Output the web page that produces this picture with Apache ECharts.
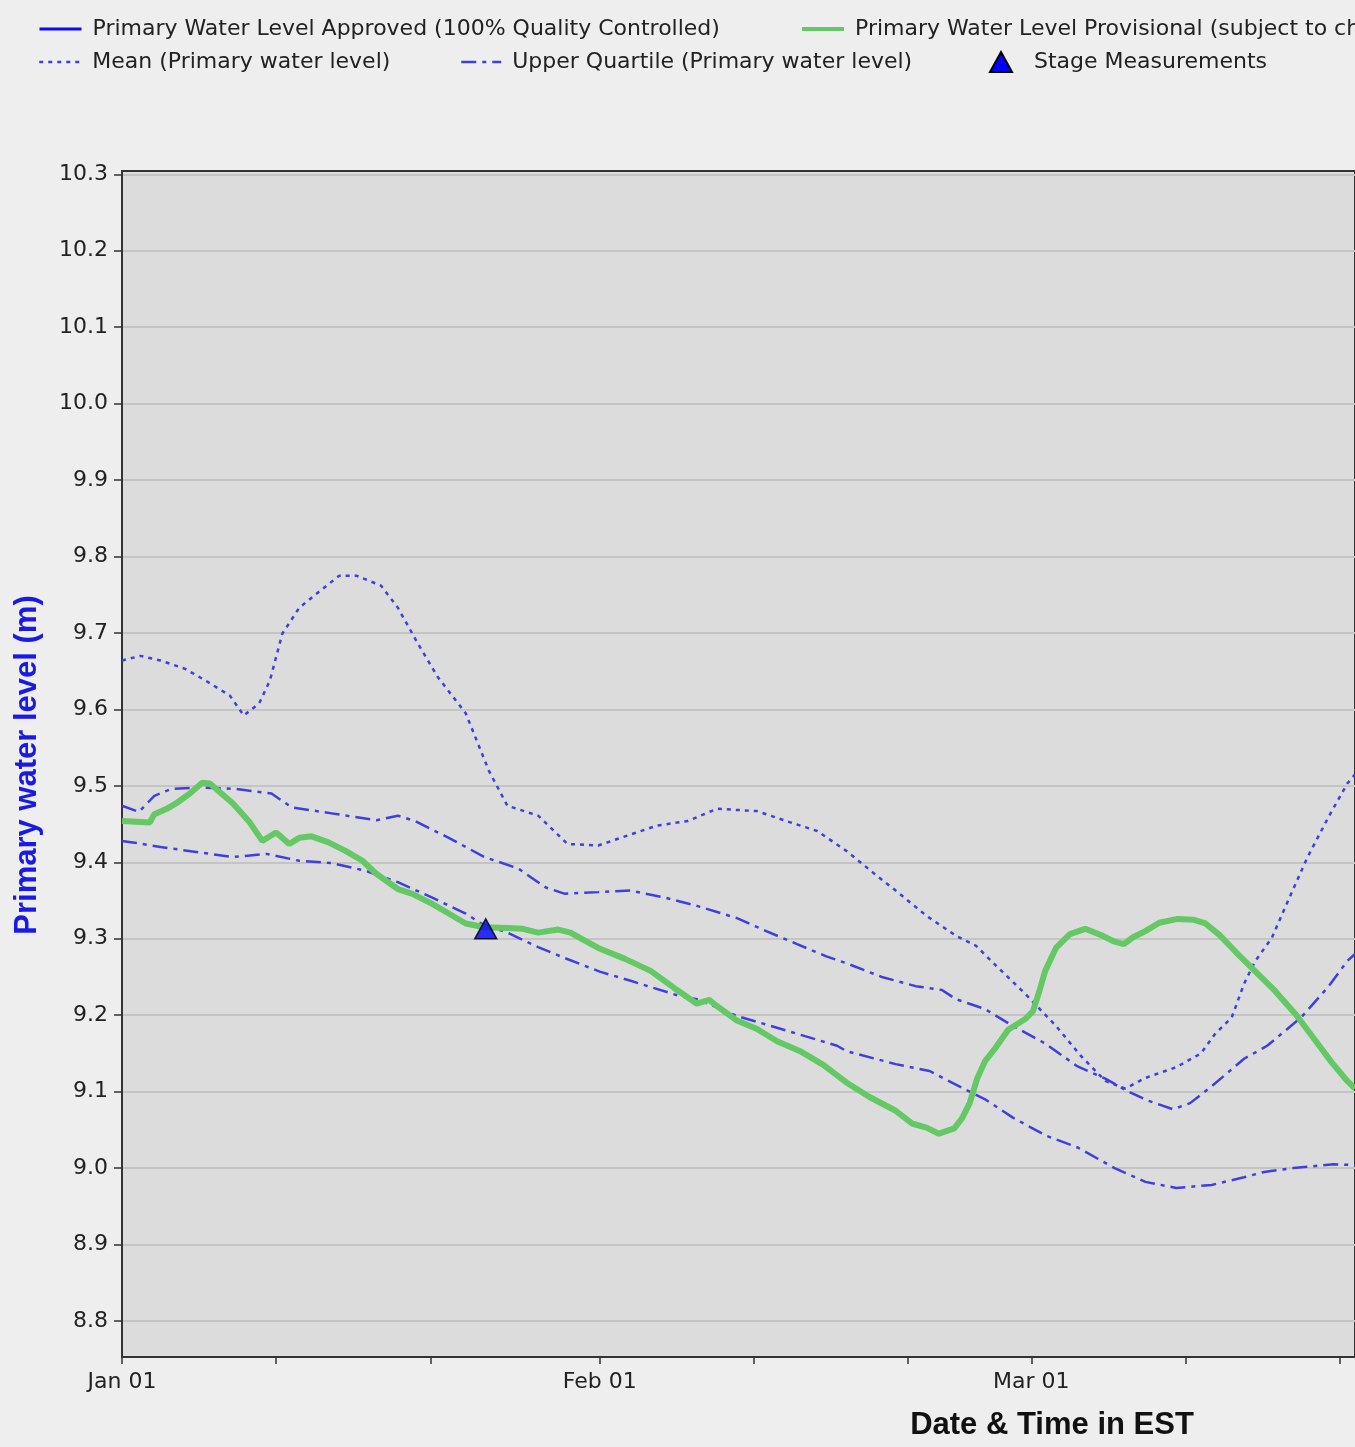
<!DOCTYPE html>
<html>
<head>
<meta charset="utf-8">
<script src="https://cdn.jsdelivr.net/npm/echarts@6/dist/echarts.min.js"></script>
<style>
html,body{margin:0;padding:0;background:#eeeeee;}
#c{width:1355px;height:1447px;}
</style>
</head>
<body>
<div id="c"></div>
<script>
// x values are days since Jan 01 (Jan 01 = 0, Feb 01 = 31, Mar 01 = 59)
const xTickDays = [0, 10, 20, 31, 41, 51, 59, 69, 79];
const xLabelDays = [0, 31, 59];
const xLabelText = {0: 'Jan 01', 31: 'Feb 01', 59: 'Mar 01'};
const yTicks = [8.8, 8.9, 9.0, 9.1, 9.2, 9.3, 9.4, 9.5, 9.6, 9.7, 9.8, 9.9, 10.0, 10.1, 10.2, 10.3];

const approved = [];

const provisional = [
[0,9.454],[1.8,9.452],[2.1,9.463],[2.9,9.47],[3.5,9.477],[4.4,9.49],[5.2,9.504],[5.7,9.503],[7.2,9.477],[8.3,9.452],[9.1,9.428],
[10.0,9.439],[10.85,9.424],[11.5,9.432],[12.3,9.434],[13.4,9.426],[14.5,9.415],[15.6,9.402],[16.5,9.385],[17.9,9.365],[18.8,9.359],
[20.1,9.346],[21.2,9.333],[22.3,9.32],[23.5,9.315],[25.0,9.314],[26,9.313],[27.0,9.308],[28.3,9.312],[29.1,9.308],[30.0,9.298],
[30.9,9.288],[32.6,9.274],[34.3,9.258],[35.8,9.236],[37.3,9.215],[38.1,9.22],[38.6,9.212],[39.9,9.193],[41.2,9.182],[42.5,9.166],
[44,9.153],[45.5,9.135],[47,9.112],[48.5,9.093],[50.2,9.075],[51.3,9.058],[52.2,9.053],[53,9.045],[54.0,9.052],[54.5,9.065],
[55.0,9.085],[55.5,9.118],[56,9.14],[56.7,9.158],[57.5,9.181],[58.6,9.195],[59.1,9.205],[59.5,9.23],[59.9,9.258],[60.6,9.288],
[61.5,9.306],[62.5,9.313],[63.5,9.305],[64.3,9.297],[65.0,9.293],[65.6,9.302],[66.4,9.31],[67.3,9.321],[68.5,9.326],[69.5,9.325],
[70.3,9.32],[71.2,9.305],[72.3,9.282],[73.5,9.258],[74.8,9.232],[76.2,9.200],[77.5,9.165],[78.5,9.138],[79.5,9.114],[80,9.104]
];

const meanLevel = [
[0,9.664],[1.2,9.67],[2.5,9.664],[4.1,9.653],[5.4,9.638],[7.0,9.618],[7.9,9.592],[8.9,9.608],[9.6,9.638],[10.4,9.699],
[11.5,9.733],[12.6,9.751],[14.1,9.775],[15.2,9.775],[16.8,9.762],[17.9,9.733],[19.2,9.686],[20.5,9.642],[22.3,9.595],[23.8,9.52],
[25.0,9.474],[27.0,9.461],[28.9,9.424],[30.9,9.422],[32.8,9.435],[34.7,9.448],[36.7,9.454],[38.6,9.47],[41.2,9.467],[43.1,9.454],
[45.1,9.441],[47,9.415],[49,9.382],[50.2,9.363],[52.2,9.33],[54.1,9.304],[55.4,9.291],[56.7,9.265],[58.6,9.228],[60.6,9.186],
[62.2,9.147],[63.8,9.114],[65.1,9.104],[66.4,9.118],[68.4,9.132],[70,9.150],[70.9,9.175],[72,9.197],[72.8,9.241],[73.5,9.27],
[74.6,9.301],[75.4,9.338],[76.9,9.406],[78.3,9.46],[79.5,9.503],[80,9.515]
];

const upperQuartile = [
[0,9.474],[1.1,9.466],[2.1,9.487],[3.2,9.496],[5,9.498],[7.4,9.496],[9.7,9.49],[11,9.472],[13.6,9.464],[16.5,9.455],
[17.9,9.461],[19,9.454],[21.2,9.432],[23.5,9.407],[25.7,9.392],[27.5,9.367],[28.7,9.359],[30.9,9.361],[33,9.363],[35.2,9.354],
[37.3,9.343],[39.9,9.327],[41.8,9.31],[43.8,9.293],[45.7,9.277],[47,9.268],[49.3,9.25],[51.5,9.238],[53.2,9.233],[54.1,9.221],
[56,9.208],[57.8,9.186],[59.9,9.163],[62,9.133],[63.8,9.117],[65.3,9.1],[66.6,9.088],[68.2,9.077],[69.3,9.085],[70.7,9.107],
[72.8,9.143],[74.3,9.16],[76.5,9.197],[78.3,9.238],[79.5,9.271],[80,9.28]
];

const lowerQuartile = [
[0,9.428],[0.7,9.426],[2.5,9.42],[5,9.413],[7.2,9.407],[9.4,9.411],[11.5,9.402],[13.6,9.399],[15.8,9.389],[17.9,9.374],
[20.1,9.354],[22.3,9.333],[23.3,9.32],[25,9.308],[27,9.289],[28.7,9.275],[31,9.257],[33,9.245],[36.2,9.225],[37.3,9.221],
[39.9,9.199],[43.1,9.180],[46.4,9.16],[47,9.153],[50.2,9.136],[52.4,9.127],[54.5,9.105],[56,9.09],[57.8,9.066],[60,9.042],
[62,9.027],[64.4,9.000],[66.4,8.982],[68.4,8.974],[70.7,8.978],[72.8,8.988],[74.1,8.995],[76,9.000],[78.6,9.005],[80,9.004]
];

const stageMeasurements = [[23.6, 9.313]];

const FONT = 'DejaVu Sans';
const QCOL = '#3f3fe0';

const chart = echarts.init(document.getElementById('c'), null, {renderer: 'canvas'});

function legendAt(name, left, top, extra) {
  return Object.assign({
    data: [name],
    left: left, top: top,
    orient: 'horizontal',
    itemWidth: 42, itemHeight: 14,
    padding: 0,
    selectedMode: false,
    itemStyle: {opacity: 0},
    lineStyle: {width: 3},
    textStyle: {fontFamily: FONT, fontSize: 22, color: '#222', padding: [0, 0, 0, 6], lineHeight: 24}
  }, extra || {});
}

const option = {
  backgroundColor: '#eeeeee',
  animation: false,
  legend: [
    legendAt('Primary Water Level Approved (100% Quality Controlled)', 38, 17),
    legendAt('Primary Water Level Provisional (subject to change)', 800, 17, {lineStyle: {width: 4}}),
    legendAt('Mean (Primary water level)', 38, 50, {lineStyle: {width: 2.5}}),
    legendAt('Upper Quartile (Primary water level)', 460, 50, {itemWidth: 40, lineStyle: {width: 2.5}}),
    legendAt('Stage Measurements', 989, 50, {itemWidth: 22, itemHeight: 20, itemStyle: {opacity: 1},
      textStyle: {fontFamily: FONT, fontSize: 22, color: '#222', padding: [0, 0, 0, 17], lineHeight: 24}})
  ],
  grid: {
    left: 122, top: 171, right: -6, bottom: 90,
    show: true, backgroundColor: '#dcdcdc', borderColor: '#333', borderWidth: 2,
    containLabel: false
  },
  xAxis: {
    type: 'value', min: 0, max: 80,
    axisLine: {show: true, onZero: false, lineStyle: {color: '#333', width: 2}},
    axisTick: {show: true, customValues: xTickDays, length: 7, lineStyle: {color: '#333', width: 1.5}},
    axisLabel: {customValues: xLabelDays, formatter: v => xLabelText[v] || '', fontFamily: FONT, fontSize: 22, color: '#222', margin: 14},
    splitLine: {show: false}
  },
  yAxis: {
    type: 'value', min: 8.7529, max: 10.3043,
    axisLine: {show: true, lineStyle: {color: '#333', width: 2}},
    axisTick: {show: true, customValues: yTicks, length: 8, lineStyle: {color: '#333', width: 1.5}},
    axisLabel: {customValues: yTicks, formatter: v => v.toFixed(1), fontFamily: FONT, fontSize: 22, color: '#222', margin: 14},
    splitLine: {show: true, lineStyle: {color: '#c4c4c4', width: 2}}
  },
  graphic: [
    {type: 'text', x: 27, y: 765, rotation: Math.PI / 2,
     style: {text: 'Primary water level (m)', fill: '#1a1ae8', font: 'bold 31px "Liberation Sans", Arial, sans-serif', textAlign: 'center', textVerticalAlign: 'middle'}},
    {type: 'text', x: 1052, y: 1425,
     style: {text: 'Date & Time in EST', fill: '#111', font: 'bold 31px "Liberation Sans", Arial, sans-serif', textAlign: 'center', textVerticalAlign: 'middle'}}
  ],
  series: [
    {name: 'Mean (Primary water level)', type: 'line', data: meanLevel, symbol: 'none', z: 2,
     lineStyle: {color: QCOL, width: 2.5, type: [4, 5]}, itemStyle: {color: QCOL}},
    {name: 'Upper Quartile (Primary water level)', type: 'line', data: upperQuartile, symbol: 'none', z: 2,
     lineStyle: {color: QCOL, width: 2.5, type: [15, 6, 4, 6]}, itemStyle: {color: QCOL}},
    {name: 'Lower Quartile (Primary water level)', type: 'line', data: lowerQuartile, symbol: 'none', z: 2,
     lineStyle: {color: QCOL, width: 2.5, type: [15, 6, 4, 6]}, itemStyle: {color: QCOL}},
    {name: 'Primary Water Level Provisional (subject to change)', type: 'line', data: provisional, symbol: 'none', z: 3,
     lineStyle: {color: '#64c864', width: 6}, itemStyle: {color: '#64c864'}},
    {name: 'Primary Water Level Approved (100% Quality Controlled)', type: 'line', data: approved, symbol: 'none', z: 3,
     lineStyle: {color: '#0a0af0', width: 3}, itemStyle: {color: '#0a0af0'}},
    {name: 'Stage Measurements', type: 'scatter', data: stageMeasurements, symbol: 'triangle', symbolSize: [22, 20], z: 5,
     itemStyle: {color: '#0000ff', borderColor: '#000', borderWidth: 1.5}}
  ]
};
chart.setOption(option);
</script>
</body>
</html>
